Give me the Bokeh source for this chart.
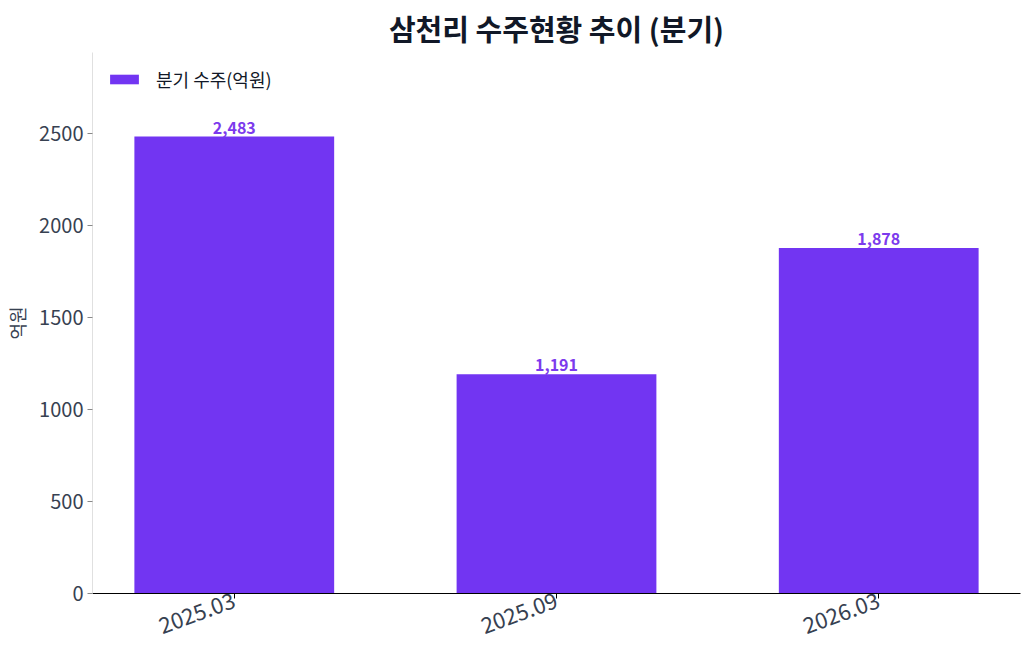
from bokeh.models import ColumnDataSource, FactorRange, Range1d, Title, Legend, FixedTicker
from bokeh.plotting import figure
from bokeh.core.properties import value
from bokeh.embed import file_html
from bokeh.resources import INLINE
import math

quarters = ['2025.03', '2025.09', '2026.03']
orders = [2483, 1191, 1878]
order_labels = ['2,483', '1,191', '1,878']
y_ticks = [0, 500, 1000, 1500, 2000, 2500]

FONT = "Noto Sans CJK KR"
BAR = '#7235f2'
LABEL = '#7c3aed'
TEXT = '#374151'

source = ColumnDataSource(data={'x': quarters, 'y': orders, 'lbl': order_labels})

p = figure(x_range=FactorRange(*quarters, range_padding=-0.04), y_range=Range1d(0, 2940),
           width=1024, height=651, output_backend="svg", toolbar_location=None,
           min_border_left=92, min_border_right=4, min_border_top=52, min_border_bottom=58)

p.add_layout(Title(text='삼천리 수주현황 추이 (분기)', align='center',
                   text_font=FONT, text_font_size='29px', text_font_style='bold',
                   text_color='#111827', offset=0, standoff=8), 'above')

r = p.vbar(x='x', top='y', width=0.62, source=source, fill_color=BAR, line_color=None)
p.text(x='x', y='y', text='lbl', source=source, text_font=value(FONT), text_font_size='16px',
       text_font_style='bold', text_color=LABEL, text_align='center', text_baseline='bottom',
       y_offset=-3)

legend = Legend(items=[('분기 수주(억원)', [r])], location='top_left', label_text_font=FONT,
                label_text_font_size='18px', label_text_color='#111827',
                glyph_width=36, glyph_height=12, label_standoff=14,
                border_line_color=None, background_fill_alpha=0, margin=14, padding=4)
p.add_layout(legend)

p.xgrid.visible = False
p.ygrid.visible = False
p.outline_line_color = None

p.yaxis.ticker = FixedTicker(ticks=y_ticks)
p.yaxis.axis_line_color = '#e0e0e0'
p.yaxis.major_tick_line_color = '#888888'
p.yaxis.major_tick_out = 5
p.yaxis.major_tick_in = 0
p.yaxis.minor_tick_line_color = None
p.yaxis.major_label_text_font = FONT
p.yaxis.major_label_text_font_size = '20px'
p.yaxis.major_label_text_color = TEXT
p.yaxis.major_label_standoff = 4
p.yaxis.axis_label = '억원'
p.yaxis.axis_label_text_font = FONT
p.yaxis.axis_label_text_font_size = '18px'
p.yaxis.axis_label_text_font_style = 'normal'
p.yaxis.axis_label_text_color = TEXT
p.yaxis.axis_label_standoff = 6

p.xaxis.axis_line_color = 'black'
p.xaxis.major_tick_line_color = 'black'
p.xaxis.major_tick_out = 5
p.xaxis.major_tick_in = 0
p.xaxis.major_label_orientation = math.radians(20)
p.xaxis.major_label_text_font = FONT
p.xaxis.major_label_text_font_size = '22px'
p.xaxis.major_label_text_color = TEXT
p.xaxis.major_label_standoff = 1

open("out.html", "w").write(file_html(p, INLINE))
